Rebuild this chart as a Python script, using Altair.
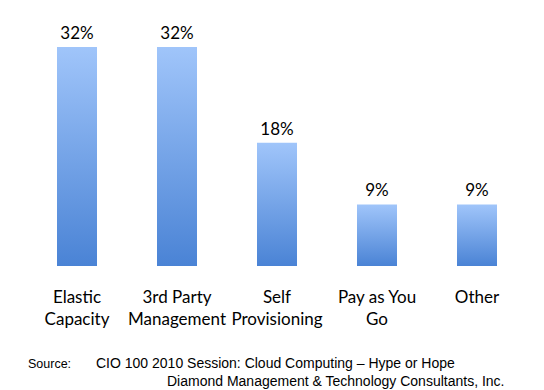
import altair as alt
import pandas as pd

categories = ["Elastic\nCapacity", "3rd Party\nManagement", "Self\nProvisioning", "Pay as You\nGo", "Other"]
values = [32, 32, 18, 9, 9]
labels = ["32%", "32%", "18%", "9%", "9%"]

df = pd.DataFrame({"cat": categories, "val": values, "lab": labels})

W, H = 500, 219
xscale = alt.Scale(paddingInner=0.6, paddingOuter=0.3)
yscale = alt.Scale(domain=[0, 32], nice=False)
xenc = alt.X("cat:N", sort=None, scale=xscale, axis=None)

grad = alt.Gradient(
    gradient="linear",
    stops=[alt.GradientStop(color="#a0c5fa", offset=0),
           alt.GradientStop(color="#4a83d5", offset=1)],
    x1=0, x2=0, y1=0, y2=1,
)

bars = alt.Chart(df).mark_bar(color=grad).encode(
    x=xenc, y=alt.Y("val:Q", scale=yscale, axis=None)
)

pct = alt.Chart(df).mark_text(
    font="Lato", fontSize=17, baseline="alphabetic", dy=-8, color="#000000"
).encode(x=xenc, y=alt.Y("val:Q", scale=yscale, axis=None), text="lab:N")

cats = alt.Chart(df).mark_text(
    font="Lato", fontSize=17, baseline="alphabetic", lineBreak="\n",
    lineHeight=22, color="#000000"
).encode(x=xenc, y=alt.value(H + 37), text="cat:N")

src_df = pd.DataFrame({
    "t": ["Source:", "CIO 100 2010 Session: Cloud Computing \u2013 Hype or Hope",
          "Diamond Management & Technology Consultants, Inc."],
    "px": [1, 69, 140],
    "py": [321, 321, 339],
    "fs": [12.5, 14, 14],
})
src = alt.Chart(src_df).mark_text(
    font="Liberation Sans", align="left", baseline="alphabetic",
    color="#000000"
).encode(x=alt.X("px:Q", scale=None), y=alt.Y("py:Q", scale=None), text="t:N",
         size=alt.Size("fs:Q", scale=None, legend=None))

chart = alt.layer(bars, pct, cats, src).properties(
    width=W, height=H,
    background="white",
    autosize=alt.AutoSizeParams(type="none"),
    padding={"left": 19, "top": 39, "right": 9, "bottom": 124},
).configure_view(strokeWidth=0)

chart.save("out.html", embed_options={"renderer": "svg", "actions": False})
